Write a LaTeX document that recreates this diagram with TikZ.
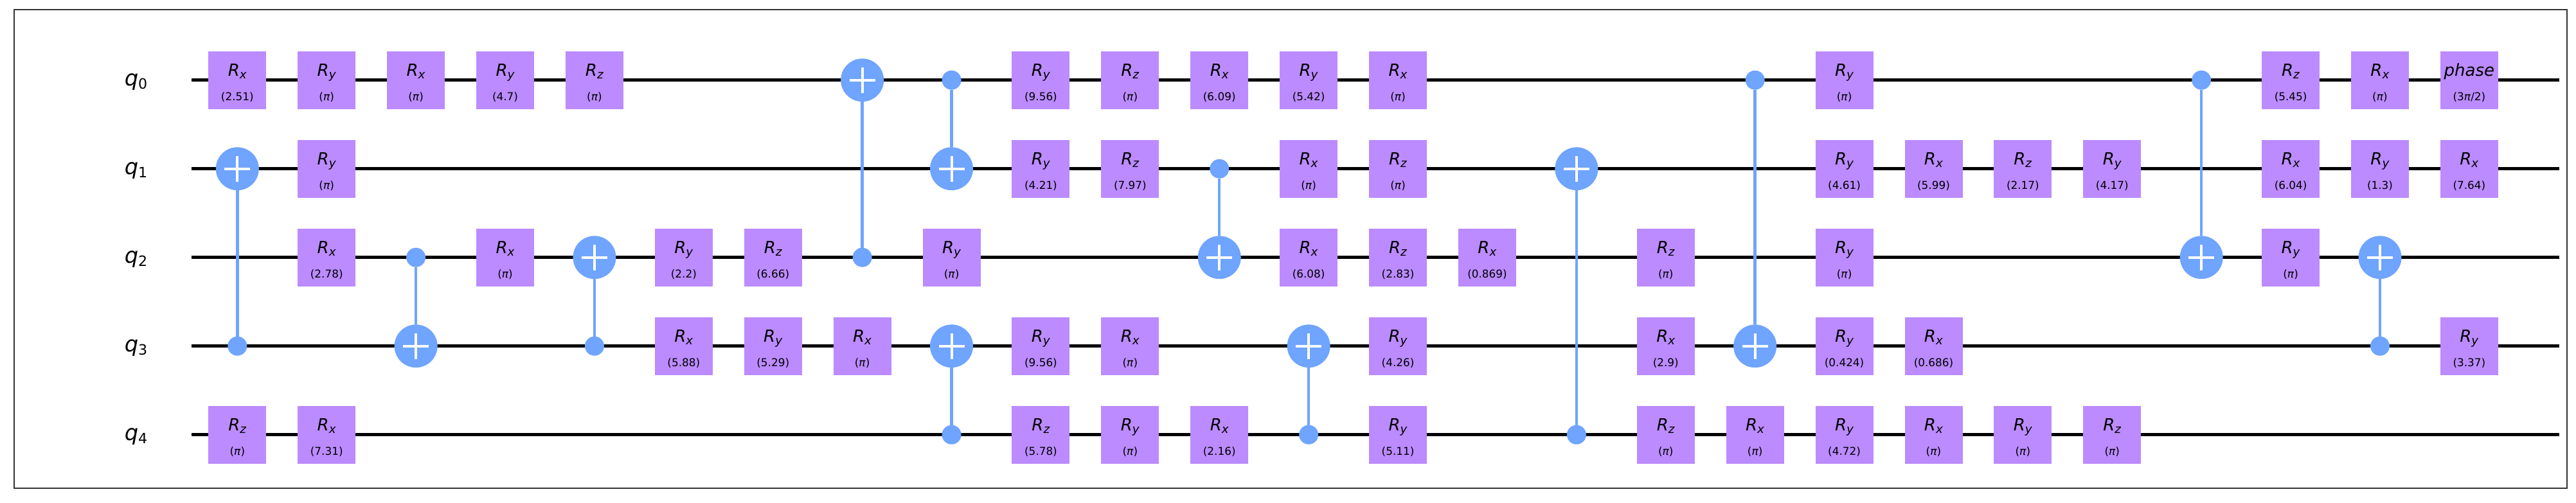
\documentclass[tikz,border=0pt]{standalone}
\usepackage{fontspec}
\usepackage{tikz}
\usepackage{xcolor}
\usetikzlibrary{positioning}
\setmainfont{DejaVu Sans}
\definecolor{gatepurple}{HTML}{BB8BFF}
\definecolor{cxblue}{HTML}{6FA4FF}
\definecolor{framegray}{HTML}{333333}
\tikzset{
  wire/.style={line width=1.3pt, black},
  cxline/.style={line width=1.25pt, cxblue},
  gatebox/.style={fill=gatepurple, minimum width=0.9cm, minimum height=0.9cm, inner sep=0pt, outer sep=0pt},
  ctlnode/.style={circle, fill=cxblue, minimum size=0.3cm, inner sep=0pt, outer sep=0pt},
  tgtnode/.style={circle, fill=cxblue, minimum size=0.67cm, inner sep=0pt, outer sep=0pt},
  plusline/.style={line width=1.15pt, white},
  qlabel/.style={font=\fontsize{9.6}{12}\selectfont, anchor=base east, inner sep=0pt},
  gatename/.style={font=\fontsize{7.4}{8}\selectfont, anchor=base, inner sep=0pt},
  gateparam/.style={font=\fontsize{4.8}{6}\selectfont, anchor=base, inner sep=0pt}
}
\newcommand{\rotname}[1]{\textit{R}\raisebox{-1.2pt}{\fontsize{5.2}{6}\selectfont\textit{#1}}}
\newcommand{\piglyph}{\textit{π}}
% one gate: column, wire, name, parameter
\newcommand{\gate}[4]{%
  \node[gatebox] (g#1-#2) at (#1,#2) {};
  \node[gatename] (n#1-#2) at ([yshift=0.06cm]g#1-#2.center) {#3};
  \node[gateparam] (p#1-#2) at ([yshift=-0.32cm]g#1-#2.center) {(#4)};
}
% one cnot: column, control wire, target wire
\newcommand{\cnot}[3]{%
  \node[ctlnode] (c#1-#2) at (#1,#2) {};
  \node[tgtnode] (t#1-#3) at (#1,#3) {};
  \draw[cxline] (c#1-#2) -- (t#1-#3);
  \draw[plusline] ([xshift=-0.2cm]t#1-#3.center) -- ([xshift=0.2cm]t#1-#3.center);
  \draw[plusline] ([yshift=-0.2cm]t#1-#3.center) -- ([yshift=0.2cm]t#1-#3.center);
}
\begin{document}
\begin{tikzpicture}[x=1.389cm, y=-1.38cm]
  \useasboundingbox (-2.659, -0.9036) rectangle (26.196, 4.763);
  % frame
  \coordinate (framenw) at (-2.5, -0.795);
  \coordinate (framese) at (26.096, 4.604);
  \draw[framegray, line width=0.7pt] (framenw) rectangle (framese);

  % wires and their labels
  \foreach \w in {0,...,4} {
      \node[qlabel] (q\w) at ([yshift=-0.084cm]-1.003, \w) {\textit{q}\raisebox{-1.4pt}{\fontsize{6.3}{7}\selectfont\w}};
      \coordinate (start\w) at (-0.513, \w);
      \coordinate (end\w) at (26.01, \w);
      \draw[wire] (start\w) -- (end\w);
  }

  % cnots
  \foreach \c/\a/\b in {0/3/1, 2/2/3, 4/3/2, 7/2/0, 8/0/1, 8/4/3, 11/1/2, 12/4/3, 15/4/1, 17/0/3, 22/0/2, 24/3/2} {
      \cnot{\c}{\a}{\b}
  }

  % rx gates
  \foreach \c/\w/\v in {0/0/2.51, 1/2/2.78, 1/4/7.31, 2/0/\piglyph, 3/2/\piglyph, 5/3/5.88, 7/3/\piglyph,
      10/3/\piglyph, 11/0/6.09, 11/4/2.16, 12/1/\piglyph, 12/2/6.08, 13/0/\piglyph, 14/2/0.869,
      16/3/2.9, 17/4/\piglyph, 19/1/5.99, 19/3/0.686, 19/4/\piglyph, 23/1/6.04, 24/0/\piglyph, 25/1/7.64} {
      \gate{\c}{\w}{\rotname{x}}{\v}
  }
  % ry gates
  \foreach \c/\w/\v in {1/0/\piglyph, 1/1/\piglyph, 3/0/4.7, 5/2/2.2, 6/3/5.29, 8/2/\piglyph, 9/0/9.56,
      9/1/4.21, 9/3/9.56, 10/4/\piglyph, 12/0/5.42, 13/3/4.26, 13/4/5.11, 18/0/\piglyph, 18/1/4.61,
      18/2/\piglyph, 18/3/0.424, 18/4/4.72, 20/4/\piglyph, 21/1/4.17, 23/2/\piglyph, 24/1/1.3, 25/3/3.37} {
      \gate{\c}{\w}{\rotname{y}}{\v}
  }
  % rz gates
  \foreach \c/\w/\v in {0/4/\piglyph, 4/0/\piglyph, 6/2/6.66, 9/4/5.78, 10/0/\piglyph, 10/1/7.97,
      13/1/\piglyph, 13/2/2.83, 16/2/\piglyph, 16/4/\piglyph, 20/1/2.17, 21/4/\piglyph, 23/0/5.45} {
      \gate{\c}{\w}{\rotname{z}}{\v}
  }
  % last phase gate
  \gate{25}{0}{\textit{phase}}{3\piglyph/2}
\end{tikzpicture}
\end{document}
